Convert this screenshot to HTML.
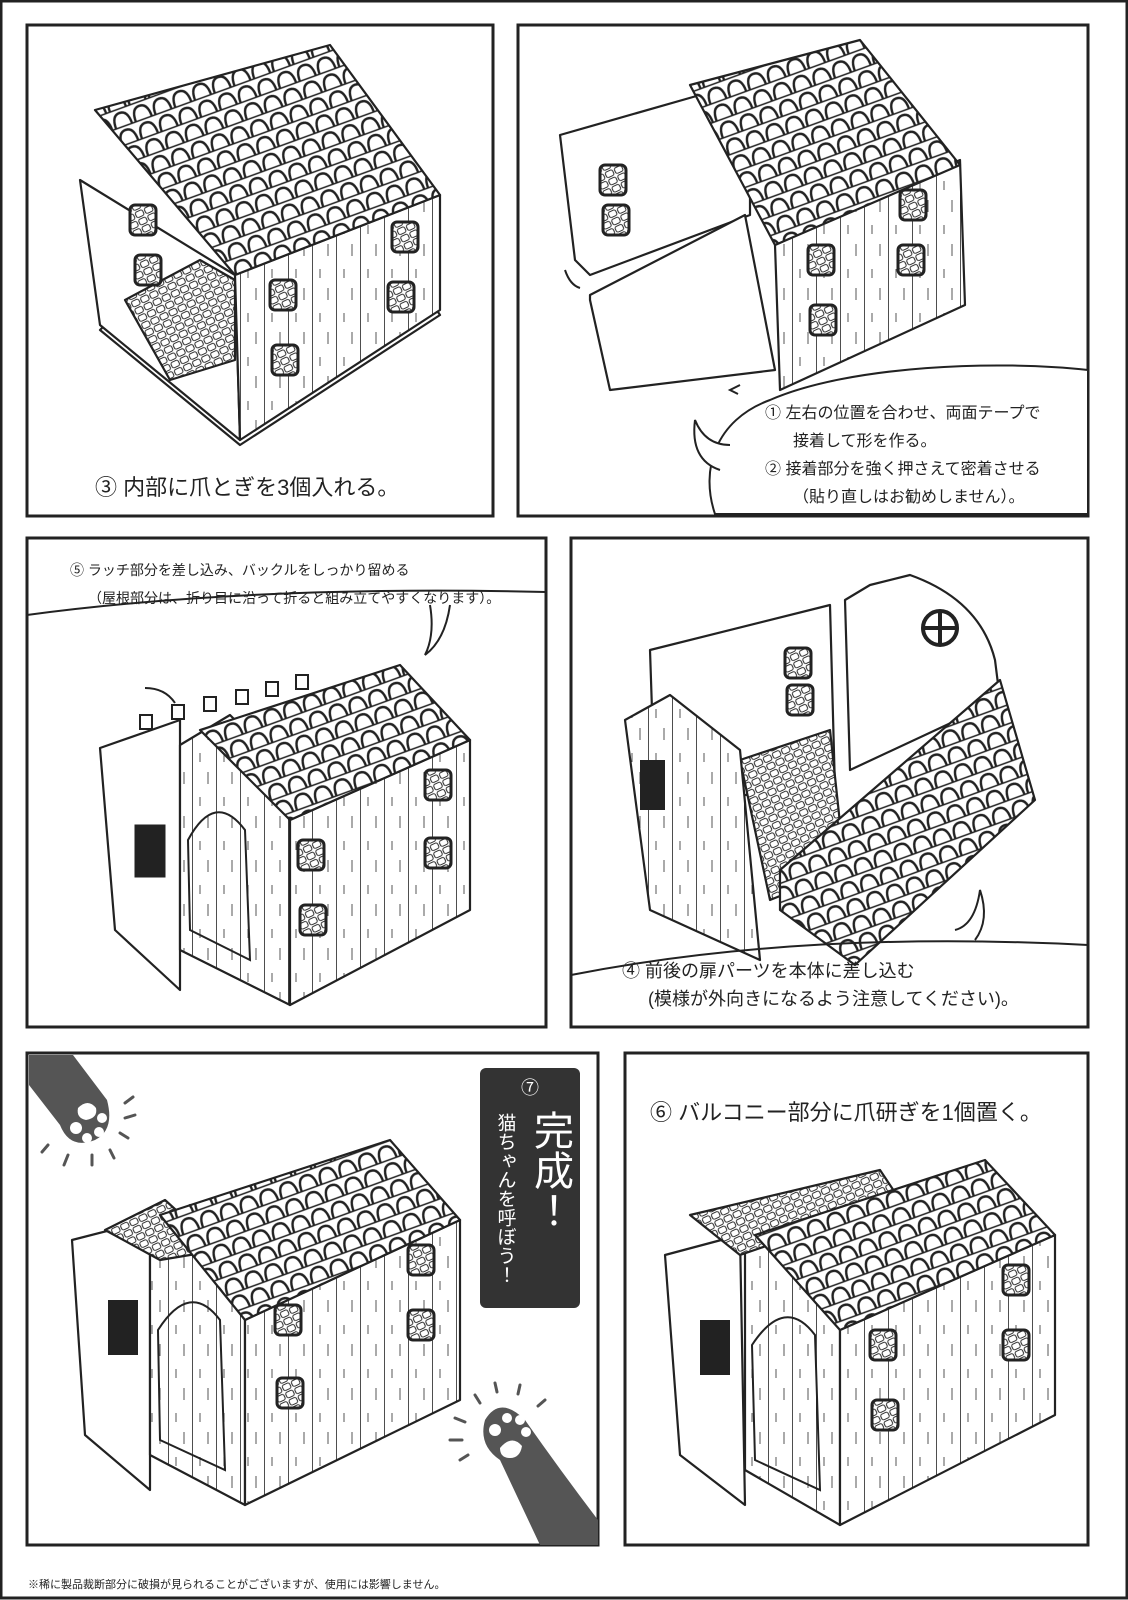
<!DOCTYPE html>
<html><head><meta charset="utf-8"><style>
html,body{margin:0;padding:0;background:#fff}
svg{display:block}
text{font-family:"Liberation Sans","Noto Sans CJK JP",sans-serif;fill:#222}
</style></head><body>
<svg width="1128" height="1600" viewBox="0 0 1128 1600" xmlns="http://www.w3.org/2000/svg">
<defs>
<pattern id="tile" width="21" height="18" patternUnits="userSpaceOnUse" patternTransform="rotate(-20)">
<rect width="21" height="18" fill="#fff"/>
<path d="M2 17 Q2 3 10.5 3 Q19 3 19 17" fill="none" stroke="#222" stroke-width="2.4"/>
<line x1="0" y1="17" x2="21" y2="17" stroke="#222" stroke-width="1.5"/>
</pattern>
<pattern id="plank" width="24" height="44" patternUnits="userSpaceOnUse">
<rect width="24" height="44" fill="#fff"/>
<line x1="0" y1="0" x2="0" y2="44" stroke="#222" stroke-width="1.6"/>
<line x1="8" y1="5" x2="8" y2="14" stroke="#555" stroke-width="1"/>
<line x1="16" y1="24" x2="16" y2="36" stroke="#555" stroke-width="1"/>
</pattern>
<pattern id="mat" width="10" height="8" patternUnits="userSpaceOnUse" patternTransform="rotate(-25)">
<rect width="10" height="8" fill="#fff"/>
<rect x="1" y="1" width="8" height="6" rx="2" fill="none" stroke="#333" stroke-width="1.1"/>
</pattern>
<g id="win"><rect x="0" y="0" width="26" height="30" rx="5" fill="url(#mat)" stroke="#222" stroke-width="3"/></g>
</defs>
<rect width="1128" height="1600" fill="#fff"/>
<rect x="1" y="1" width="1126" height="1597" fill="none" stroke="#222" stroke-width="3"/>
<g fill="none" stroke="#222" stroke-width="3">
<rect x="27" y="25" width="466" height="491"/>
<rect x="518" y="25" width="570" height="491"/>
<rect x="27" y="538" width="519" height="489"/>
<rect x="571" y="538" width="517" height="489"/>
<rect x="27" y="1053" width="571" height="492"/>
<rect x="625" y="1053" width="463" height="492"/>
</g>

<!-- Panel 1 house -->
<g stroke="#222" stroke-width="2.2" stroke-linejoin="round">
<polygon points="100,330 240,445 440,315 430,300 240,425 110,320" fill="#fff"/>
<polygon points="80,180 235,275 240,440 100,325" fill="#fff"/>
<polygon points="125,300 200,260 235,280 235,360 170,380" fill="url(#mat)"/>
<polygon points="235,275 440,195 440,310 240,440" fill="url(#plank)"/>
<polygon points="95,110 330,45 440,195 235,275" fill="url(#tile)"/>
</g>
<use href="#win" x="130" y="205"/><use href="#win" x="135" y="255"/>
<use href="#win" x="270" y="280"/><use href="#win" x="272" y="345"/>
<use href="#win" x="392" y="222"/><use href="#win" x="388" y="282"/>
<text x="95" y="495" font-size="22">③ 内部に爪とぎを3個入れる。</text>

<!-- Panel 2 house -->
<g stroke="#222" stroke-width="2.2" stroke-linejoin="round">
<polygon points="560,135 700,95 750,120 750,215 590,275 575,260" fill="#fff"/>
<polygon points="590,295 745,215 775,370 610,390 590,300" fill="#fff"/>
<polygon points="775,245 960,160 965,305 780,390" fill="url(#plank)"/>
<polygon points="690,85 860,40 960,165 775,245" fill="url(#tile)"/>
</g>
<use href="#win" x="600" y="165"/><use href="#win" x="603" y="205"/>
<use href="#win" x="808" y="245"/><use href="#win" x="810" y="305"/>
<use href="#win" x="900" y="190"/><use href="#win" x="898" y="245"/>
<path d="M740 385 l-10 5 8 4" fill="none" stroke="#222" stroke-width="2"/>
<path d="M565 270 q5 15 15 18" fill="none" stroke="#222" stroke-width="2"/>
<path d="M715 514 C700 470 715 420 770 400 C850 365 1000 360 1088 370 L1088 514 Z" fill="#fff" stroke="#222" stroke-width="2"/>
<path d="M720 470 q-30 -10 -25 -50 q10 25 35 25" fill="#fff" stroke="#222" stroke-width="2"/>
<g font-size="16"><text x="765" y="418">① 左右の位置を合わせ、両面テープで</text>
<text x="793" y="446">接着して形を作る。</text>
<text x="765" y="474">② 接着部分を強く押さえて密着させる</text>
<text x="793" y="502">（貼り直しはお勧めしません）。</text></g>

<!-- Panel 3 -->
<g font-size="14"><text x="70" y="575">⑤ ラッチ部分を差し込み、バックルをしっかり留める</text>
<text x="88" y="603">（屋根部分は、折り目に沿って折ると組み立てやすくなります）。</text></g>
<path d="M27 615 Q250 585 546 592" fill="none" stroke="#222" stroke-width="2"/>
<path d="M430 605 q5 30 -5 50 q20 -15 25 -50" fill="#fff" stroke="#222" stroke-width="2"/>
<g stroke="#222" stroke-width="2.2" stroke-linejoin="round">
<polygon points="100,748 180,720 180,990 115,930" fill="#fff"/>
<polygon points="180,745 230,715 290,775 290,1005 180,950" fill="url(#plank)"/>
<polygon points="290,820 470,740 470,910 290,1005" fill="url(#plank)"/>
<polygon points="200,730 400,665 470,740 290,820" fill="url(#tile)"/>
</g>
<g fill="#fff" stroke="#222" stroke-width="2"><rect x="140" y="715" width="12" height="14"/><rect x="172" y="705" width="12" height="14"/><rect x="204" y="697" width="12" height="14"/><rect x="236" y="690" width="12" height="14"/><rect x="266" y="682" width="12" height="14"/><rect x="296" y="675" width="12" height="14"/></g>
<rect x="135" y="825" width="30" height="52" fill="#222" stroke="#222"/>
<path d="M188 840 Q215 790 245 830 L250 960 L190 930 Z" fill="url(#plank)" stroke="#222" stroke-width="2"/>
<use href="#win" x="298" y="840"/><use href="#win" x="300" y="905"/>
<use href="#win" x="425" y="770"/><use href="#win" x="425" y="838"/>
<path d="M145 688 q20 0 30 15" fill="none" stroke="#222" stroke-width="2"/>

<!-- Panel 4 -->
<g stroke="#222" stroke-width="2.2" stroke-linejoin="round">
<polygon points="650,650 830,605 835,790 655,800" fill="#fff"/>
<path d="M845 600 L870 585 L910 575 Q980 600 995 660 L1000 700 L850 770 Z" fill="#fff"/>
<polygon points="740,760 830,730 845,870 770,900" fill="url(#mat)"/>
<polygon points="625,720 670,695 740,750 760,960 650,910" fill="url(#plank)"/>
<polygon points="780,870 1000,680 1035,800 855,965 780,910" fill="url(#tile)"/>
</g>
<circle cx="940" cy="628" r="17" fill="#fff" stroke="#222" stroke-width="4"/>
<path d="M923 628 h34 M940 611 v34" stroke="#222" stroke-width="4"/>
<rect x="640" y="760" width="25" height="50" fill="#222"/>
<use href="#win" x="785" y="648"/><use href="#win" x="787" y="685"/>
<path d="M571 975 Q800 930 1088 945" fill="none" stroke="#222" stroke-width="2"/>
<path d="M955 930 q20 -5 25 -40 q10 30 -5 50" fill="#fff" stroke="#222" stroke-width="2"/>
<g font-size="18"><text x="622" y="977">④ 前後の扉パーツを本体に差し込む</text>
<text x="648" y="1005">(模様が外向きになるよう注意してください)。</text></g>

<!-- Panel 5 -->
<path d="M29 1055 L73 1055 L107 1100 Q115 1130 95 1140 Q70 1150 60 1125 L29 1085 Z" fill="#555"/>
<g fill="#fff"><circle cx="76" cy="1128" r="6"/><circle cx="87" cy="1138" r="5"/><circle cx="99" cy="1132" r="5"/><circle cx="102" cy="1118" r="5"/><path d="M78 1108 q10 -10 18 0 q2 10 -10 12 q-10 -2 -8 -12z"/></g>
<g stroke="#555" stroke-width="3" stroke-linecap="round"><line x1="125" y1="1118" x2="135" y2="1115"/><line x1="125" y1="1103" x2="133" y2="1097"/><line x1="120" y1="1133" x2="128" y2="1138"/><line x1="110" y1="1150" x2="114" y2="1158"/><line x1="92" y1="1155" x2="92" y2="1165"/><line x1="68" y1="1155" x2="64" y2="1165"/><line x1="48" y1="1145" x2="42" y2="1152"/></g>
<path d="M540 1545 L598 1545 L598 1520 Q560 1470 525 1420 Q500 1395 485 1420 Q478 1445 500 1460 Z" fill="#555"/>
<g fill="#fff"><circle cx="495" cy="1430" r="6"/><circle cx="507" cy="1418" r="5"/><circle cx="520" cy="1420" r="5"/><circle cx="526" cy="1432" r="5"/><path d="M500 1448 q12 -14 22 -2 q-2 12 -12 12 q-10 0 -10 -10z"/></g>
<g stroke="#555" stroke-width="3" stroke-linecap="round"><line x1="450" y1="1440" x2="462" y2="1440"/><line x1="455" y1="1418" x2="465" y2="1422"/><line x1="460" y1="1460" x2="468" y2="1455"/><line x1="475" y1="1395" x2="480" y2="1403"/><line x1="495" y1="1383" x2="497" y2="1392"/><line x1="520" y1="1385" x2="518" y2="1394"/><line x1="545" y1="1400" x2="538" y2="1406"/></g>
<rect x="480" y="1068" width="100" height="240" rx="6" fill="#333"/>
<text x="530" y="1094" font-size="18" text-anchor="middle" style="fill:#fff">⑦</text>
<text x="550" y="1110" font-size="40" style="fill:#fff;writing-mode:vertical-rl">完成！</text>
<text x="505" y="1113" font-size="19" style="fill:#fff;writing-mode:vertical-rl">猫ちゃんを呼ぼう！</text>
<g stroke="#222" stroke-width="2.2" stroke-linejoin="round">
<polygon points="72,1240 150,1220 150,1490 85,1435" fill="#fff"/>
<polygon points="150,1230 190,1205 245,1270 245,1505 150,1455" fill="url(#plank)"/>
<polygon points="245,1320 460,1220 460,1400 245,1505" fill="url(#plank)"/>
<polygon points="105,1230 165,1200 220,1250 160,1260" fill="url(#mat)"/>
<polygon points="160,1215 390,1140 460,1220 245,1320" fill="url(#tile)"/>
</g>
<rect x="108" y="1300" width="30" height="55" fill="#222"/>
<path d="M158 1330 Q190 1280 220 1320 L225 1470 L160 1440 Z" fill="url(#plank)" stroke="#222" stroke-width="2"/>
<use href="#win" x="275" y="1305"/><use href="#win" x="277" y="1378"/>
<use href="#win" x="408" y="1245"/><use href="#win" x="408" y="1310"/>

<!-- Panel 6 -->
<text x="650" y="1120" font-size="22">⑥ バルコニー部分に爪研ぎを1個置く。</text>
<g stroke="#222" stroke-width="2.2" stroke-linejoin="round">
<polygon points="665,1255 740,1235 745,1505 680,1455" fill="#fff"/>
<polygon points="745,1245 785,1215 840,1280 840,1525 745,1470" fill="url(#plank)"/>
<polygon points="840,1330 1055,1235 1055,1415 840,1525" fill="url(#plank)"/>
<polygon points="690,1215 880,1170 900,1200 740,1255" fill="url(#mat)"/>
<polygon points="755,1235 985,1160 1055,1235 840,1330" fill="url(#tile)"/>
</g>
<rect x="700" y="1320" width="30" height="55" fill="#222"/>
<path d="M752 1345 Q785 1295 815 1335 L820 1490 L755 1460 Z" fill="url(#plank)" stroke="#222" stroke-width="2"/>
<use href="#win" x="870" y="1330"/><use href="#win" x="872" y="1400"/>
<use href="#win" x="1003" y="1265"/><use href="#win" x="1003" y="1330"/>

<text x="28" y="1588" font-size="11">※稀に製品裁断部分に破損が見られることがございますが、使用には影響しません。</text>
</svg>
</body></html>
